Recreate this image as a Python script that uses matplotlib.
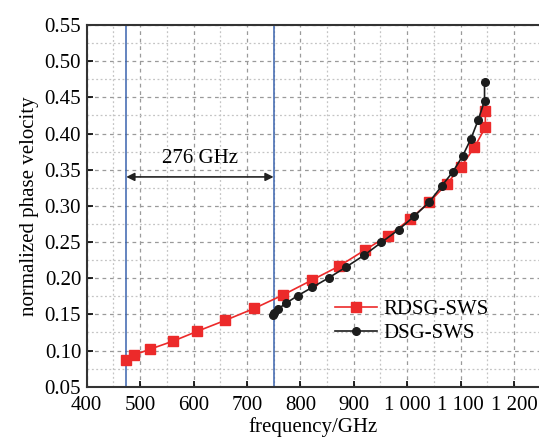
import matplotlib as mpl
import matplotlib.pyplot as plt
import numpy as np

mpl.rcParams["font.family"] = ["Liberation Serif", "DejaVu Serif"]
mpl.rcParams["mathtext.fontset"] = "stix"

# RDSG-SWS (red squares)
rdsg_freq = [473.6, 488.6, 519, 561, 607, 659.6, 714, 768, 822, 873, 921, 965, 1006, 1041, 1074, 1101, 1126, 1146.5, 1146.5]
rdsg_vp = [0.0865, 0.0938, 0.102, 0.1128, 0.1266, 0.1418, 0.1583, 0.177, 0.1975, 0.2168, 0.239, 0.259, 0.2818, 0.3048,
           0.330, 0.354, 0.381, 0.4085, 0.4315]

# DSG-SWS (black circles)
dsg_freq = [749.5, 750.5, 757.6, 773, 795, 822.5, 853.7, 885.6, 920, 952, 984, 1013, 1041, 1065, 1085.4, 1104, 1119.6,
            1132.8, 1145, 1145]
dsg_vp = [0.149, 0.152, 0.157, 0.1653, 0.1758, 0.1874, 0.2007, 0.2154, 0.232, 0.2496, 0.267, 0.2855, 0.3048, 0.3276,
          0.3468, 0.369, 0.3928, 0.418, 0.4453, 0.4707]

band_edges = [474, 750]
band_label = "276 GHz"

x_ticks = [400, 500, 600, 700, 800, 900, 1000, 1100, 1200]
x_ticklabels = ["400", "500", "600", "700", "800", "900", "1 000", "1 100", "1 200"]
y_ticks = [0.05, 0.10, 0.15, 0.20, 0.25, 0.30, 0.35, 0.40, 0.45, 0.50, 0.55]

RED = "#ec2a2a"
BLACK = "#1c1c1c"
BLUE = "#3a63ad"
FONT_SIZE = 15

fig = plt.figure(figsize=(5.39, 4.41), dpi=100)
ax = fig.add_axes([0.1609, 0.1231, 0.8391, 0.8202])

ax.plot(rdsg_freq, rdsg_vp, "-s", color=RED, linewidth=1.2, markersize=6.5, label="RDSG-SWS", zorder=3)
ax.plot(dsg_freq, dsg_vp, "-o", color=BLACK, linewidth=1.2, markersize=5.5, label="DSG-SWS", zorder=4)

for xb in band_edges:
    ax.axvline(xb, color=BLUE, linewidth=1.1, zorder=2)

ax.annotate("", xy=(band_edges[0], 0.34), xytext=(band_edges[1], 0.34),
            arrowprops=dict(arrowstyle="<|-|>", color="#222222", lw=1.2, mutation_scale=12,
                            shrinkA=0, shrinkB=0))
ax.text(sum(band_edges) / 2, 0.352, band_label, ha="center", va="bottom", fontsize=FONT_SIZE)

ax.set_xlim(400, 1247)
ax.set_ylim(0.05, 0.55)
ax.set_xticks(x_ticks)
ax.set_xticklabels(x_ticklabels)
ax.set_yticks(y_ticks)
ax.set_yticklabels([f"{v:.2f}" for v in y_ticks])
ax.set_xticks(np.arange(450, 1247, 100), minor=True)
ax.set_yticks(np.arange(0.075, 0.55, 0.05), minor=True)
ax.tick_params(axis="both", which="major", direction="in", length=4, width=1.2, labelsize=FONT_SIZE)
ax.tick_params(axis="x", which="major", pad=7)
ax.tick_params(axis="y", which="major", pad=4)
ax.tick_params(axis="both", which="minor", length=0)

ax.grid(True, which="major", linestyle=(0, (3, 3)), color="#9a9a9a", linewidth=0.9)
ax.grid(True, which="minor", linestyle=(0, (1.5, 2)), color="#c4c4c4", linewidth=0.9)
ax.set_axisbelow(True)

for side in ["left", "bottom", "top"]:
    ax.spines[side].set_linewidth(1.5)
    ax.spines[side].set_color("#333333")
ax.spines["right"].set_visible(False)

ax.set_xlabel("frequency/GHz", fontsize=FONT_SIZE, labelpad=1)
ax.set_ylabel("normalized phase velocity", fontsize=FONT_SIZE, labelpad=4)

ax.legend(loc="upper left", bbox_to_anchor=(0.508, 0.292), frameon=False, fontsize=FONT_SIZE,
          handlelength=2.0, handletextpad=0.32, labelspacing=0.2, borderpad=0.4)

fig.savefig("out.png", dpi=100)
